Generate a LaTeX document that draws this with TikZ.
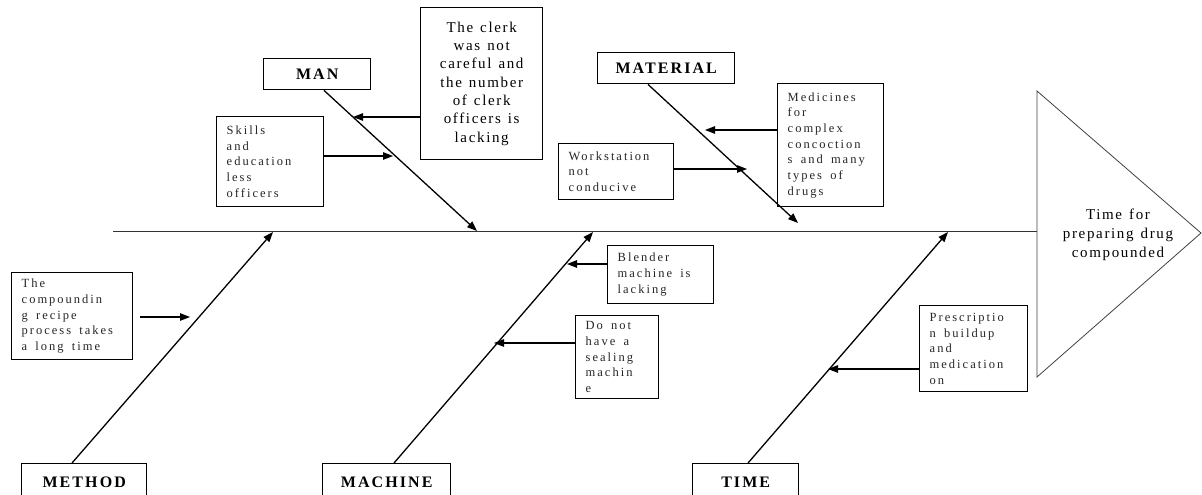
\documentclass[tikz,border=0pt]{standalone}
\usepackage{fontspec}
\setmainfont{Liberation Serif}
\newfontfamily\smfont[LetterSpace=16,WordSpace=1.6]{Liberation Serif}
\newfontfamily\bgfont[LetterSpace=11,WordSpace=1.3]{Liberation Serif}
\newfontfamily\ctfont[LetterSpace=13]{Liberation Serif}
\usetikzlibrary{arrows.meta}
\begin{document}
\begin{tikzpicture}[x=1pt,y=-1pt,
  box/.style={draw, line width=1.4pt, inner sep=0pt, anchor=north west},
  cause/.style={box, inner xsep=10pt, font=\smfont\fontsize{12.5}{15.7}\selectfont, align=flush left, text=black!85},
  cat/.style={box, font=\ctfont\bfseries\fontsize{16}{18}\selectfont, align=center},
  bone/.style={line width=1.3pt, -{Triangle[length=10pt,width=7.5pt]}},
  arr/.style={line width=1.3pt, -{Triangle[length=10pt,width=7.5pt]}},
]
\useasboundingbox (0,0) rectangle (1202,495);
\clip (0,0) rectangle (1202,495);

% effect head
\draw[line width=0.8pt, black!75] (1037,91) -- (1037,377) -- (1201,233) -- cycle;
\node[font=\bgfont\fontsize{15}{19}\selectfont, align=flush center, text width=140pt] (eff) at (1118,235) {Time for\\preparing drug\\compounded};
\coordinate (spL) at (113,231);
\coordinate (spR) at (1037,231);
\draw[line width=0.9pt, black!80] (spL) -- (spR);

% categories
\node[cat, minimum width=107pt, minimum height=31pt] (man) at (263,58) {MAN};
\node[cat, minimum width=137pt, minimum height=31pt] (mat) at (597,52) {MATERIAL};
\node[cat, minimum width=125pt, minimum height=38pt] (meth) at (21,463) {METHOD};
\node[cat, minimum width=128pt, minimum height=38pt] (mach) at (322,463) {MACHINE};
\node[cat, minimum width=106pt, minimum height=38pt] (time) at (692,463) {TIME};

% causes
\node[box, align=flush center, font=\bgfont\fontsize{15}{18.3}\selectfont, text width=110pt, minimum width=122pt, minimum height=152pt] (clerk) at (420,7)
  {The clerk\\was not\\careful and\\the number\\of clerk\\officers is\\lacking};
\node[cause, text width=87pt, minimum width=107pt, minimum height=90pt] (skills) at (216,116)
  {Skills\\and\\education\\less\\officers};
\node[cause, text width=86pt, minimum width=106pt, minimum height=123pt] (medi) at (777,83)
  {Medicines\\for\\complex\\concoction\\s and many\\types of\\drugs};
\node[cause, text width=95pt, minimum width=115pt, minimum height=56pt] (work) at (558,143)
  {Workstation\\not\\conducive};
\node[cause, text width=101pt, minimum width=121pt, minimum height=87pt] (comp) at (11,272)
  {The\\compoundin\\g recipe\\process takes\\a long time};
\node[cause, text width=86pt, minimum width=106pt, minimum height=58pt] (blend) at (607,245)
  {Blender\\machine is\\lacking};
\node[cause, text width=63pt, minimum width=83pt, minimum height=83pt] (seal) at (575,315)
  {Do not\\have a\\sealing\\machin\\e};
\node[cause, text width=88pt, minimum width=108pt, minimum height=86pt] (presc) at (919,305)
  {Prescriptio\\n buildup\\and\\medication\\on};

% bones
\coordinate (tMan) at (477,231);
\coordinate (tMat) at (798,223);
\coordinate (tMeth) at (273,232);
\coordinate (tMach) at (593,232);
\coordinate (tTime) at (948,232);
\draw[bone] (man.south -| 324,0) -- (tMan);
\draw[bone] (mat.south -| 648,0) -- (tMat);
\draw[bone] (meth.north -| 72,0) -- (tMeth);
\draw[bone] (mach.north -| 394,0) -- (tMach);
\draw[bone] (time.north -| 748,0) -- (tTime);

% cause arrows
\coordinate (aClerk) at (353,117);
\coordinate (aSkills) at (393,156);
\coordinate (aMedi) at (705,130);
\coordinate (aWork) at (747,169);
\coordinate (aComp0) at (140,317);
\coordinate (aComp) at (190,317);
\coordinate (aBlend) at (567,264);
\coordinate (aSeal) at (494,343);
\coordinate (aPresc) at (828,369);
\draw[arr] (clerk.west |- aClerk) -- (aClerk);
\draw[arr] (skills.east |- aSkills) -- (aSkills);
\draw[arr] (medi.west |- aMedi) -- (aMedi);
\draw[arr] (work.east |- aWork) -- (aWork);
\draw[arr] (aComp0) -- (aComp);
\draw[arr] (blend.west |- aBlend) -- (aBlend);
\draw[arr] (seal.west |- aSeal) -- (aSeal);
\draw[arr] (presc.west |- aPresc) -- (aPresc);
\end{tikzpicture}
\end{document}
